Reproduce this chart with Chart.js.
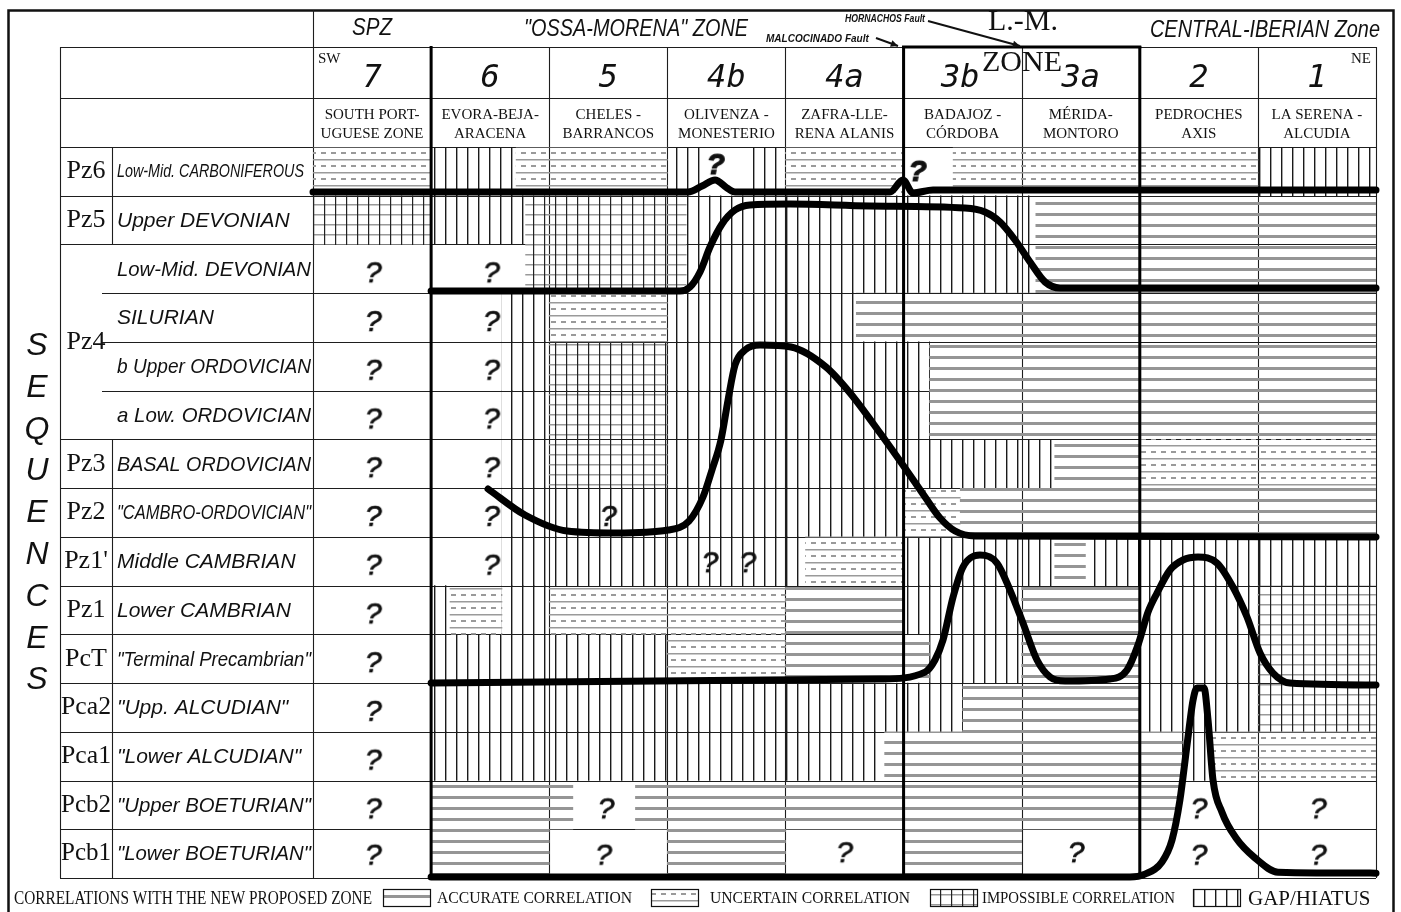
<!DOCTYPE html>
<html>
<head>
<meta charset="utf-8">
<title>Sequences correlation</title>
<script src="https://cdn.jsdelivr.net/npm/chart.js@4.4.1/dist/chart.umd.min.js"></script>
<style>
  html, body { margin: 0; padding: 0; background: #fff; overflow: hidden; }
  canvas { display: block; }
</style>
</head>
<body>
<canvas id="myChart" width="1401" height="912"></canvas>
<script>
// zones, SW -> NE
const columns = ['7', '6', '5', '4b', '4a', '3b', '3a', '2', '1'];
const columnNames = [
  ['SOUTH PORT-', 'UGUESE ZONE'], ['EVORA-BEJA-', 'ARACENA'], ['CHELES -', 'BARRANCOS'],
  ['OLIVENZA -', 'MONESTERIO'], ['ZAFRA-LLE-', 'RENA ALANIS'], ['BADAJOZ -', 'CÓRDOBA'],
  ['MÉRIDA-', 'MONTORO'], ['PEDROCHES', 'AXIS'], ['LA SERENA -', 'ALCUDIA']
];
const stages = [
  'Low-Mid. CARBONIFEROUS', 'Upper DEVONIAN', 'Low-Mid. DEVONIAN', 'SILURIAN',
  'b Upper ORDOVICIAN', 'a Low. ORDOVICIAN', 'BASAL ORDOVICIAN', '"CAMBRO-ORDOVICIAN"',
  'Middle CAMBRIAN', 'Lower CAMBRIAN', '"Terminal Precambrian"', '"Upp. ALCUDIAN"',
  '"Lower ALCUDIAN"', '"Upper BOETURIAN"', '"Lower BOETURIAN"'
];
const sequences = ['Pz6', 'Pz5', 'Pz4', 'Pz3', 'Pz2', "Pz1'", 'Pz1', 'PcT', 'Pca2', 'Pca1', 'Pcb2', 'Pcb1'];
const sequenceSpans = [[0, 1], [1, 2], [2, 6], [6, 7], [7, 8], [8, 9], [9, 10], [10, 11], [11, 12], [12, 13], [13, 14], [14, 15]];

// cells: [row, from, to] in column units (0 = left edge of zone 7)
const accurate = [
  [1, 6.12, 9], [2, 6.12, 9], [3, 4.6, 9], [4, 5.22, 9], [5, 5.22, 9], [6, 6.28, 7],
  [7, 5.48, 9], [8, 6.28, 6.54], [9, 4, 5], [9, 6, 7], [10, 4, 5.22], [10, 6, 7],
  [11, 5.5, 7], [12, 4.84, 7.36], [13, 1, 2.2], [13, 2.73, 7.33], [14, 1, 2], [14, 3, 4], [14, 5, 6]
];
const uncertain = [
  [0, 0, 1], [0, 1.72, 3], [0, 4, 5], [0, 5.42, 8], [3, 2, 3], [6, 7, 9], [7, 5, 5.48],
  [8, 4.17, 5], [9, 1.16, 1.6], [9, 2, 4], [10, 3, 4], [12, 7.6, 9]
];
const impossible = [
  [1, 0, 1], [1, 1.8, 3.16], [2, 1.8, 3.16], [4, 2, 3], [5, 2, 3], [6, 2, 3],
  [9, 8, 9], [10, 8, 9], [11, 8, 9]
];
const gap = [
  [0, 1, 1.72], [0, 3, 3.28], [0, 3.7, 4], [0, 8, 9],
  [1, 1, 1.8], [1, 3.16, 6.12], [2, 3.16, 6.12],
  [3, 1.6, 2], [3, 3, 4.6], [4, 1.6, 2], [4, 3, 5.22], [5, 1.6, 2], [5, 3, 5.22],
  [6, 1.6, 2], [6, 3, 6.28], [7, 1.6, 5], [8, 1.6, 4.17], [8, 5, 6.28], [8, 6.54, 9],
  [9, 1, 1.13], [9, 1.6, 2], [9, 5, 6], [9, 7, 8], [10, 1, 3], [10, 5.22, 6], [10, 7, 8],
  [11, 1, 5.5], [11, 7, 8], [12, 1, 4.84], [12, 7.36, 7.6]
];

// thick boundaries: [column units, row units]
const boundary1 = [[0, 0.923], [3.175, 0.923], [3.294, 0.8], [3.404, 0.677], [3.505, 0.841], [3.573, 0.923],
  [4.885, 0.923], [4.995, 0.677], [5.08, 0.944], [5.249, 0.882], [9, 0.882]];
const boundary2 = [[1, 2.955], [3.107, 2.955], [3.192, 2.873], [3.277, 2.565], [3.361, 2.052], [3.463, 1.58],
  [3.573, 1.293], [3.7, 1.19], [4.039, 1.17], [4.716, 1.211], [5.52, 1.252], [5.69, 1.334], [5.817, 1.539],
  [5.944, 1.908], [6.071, 2.36], [6.198, 2.77], [6.325, 2.893], [9, 2.893]];
const boundary3 = [[1.482, 7.018], [1.795, 7.552], [2.151, 7.88], [2.565, 7.921], [3.006, 7.86], [3.183, 7.675],
  [3.302, 7.182], [3.378, 6.628], [3.454, 6.013], [3.514, 5.192], [3.573, 4.474], [3.658, 4.166], [3.785, 4.063],
  [4.047, 4.104], [4.343, 4.515], [4.547, 5.048], [4.801, 5.869], [5.012, 6.587], [5.182, 7.182], [5.309, 7.613],
  [5.436, 7.88], [5.605, 7.983], [9, 8.003]];
const boundary4 = [[1, 11], [4.801, 10.917], [5.182, 10.774], [5.266, 10.527], [5.334, 10.117], [5.419, 9.235],
  [5.503, 8.619], [5.647, 8.373], [5.791, 8.537], [5.901, 9.091], [6.011, 9.768], [6.13, 10.527], [6.24, 10.876],
  [6.367, 10.958], [6.748, 10.917], [6.892, 10.733], [6.985, 10.22], [7.07, 9.543], [7.146, 9.153], [7.256, 8.68],
  [7.366, 8.475], [7.493, 8.414], [7.654, 8.537], [7.789, 9.029], [7.908, 9.645], [8.018, 10.384], [8.128, 10.794],
  [8.272, 11], [9, 11.041]];
const boundary5 = [[1, 14.98], [6.917, 14.98], [7.044, 14.92], [7.188, 14.67], [7.273, 14.22], [7.34, 13.4],
  [7.4, 12.27], [7.451, 11.35], [7.484, 11.1], [7.544, 11.1], [7.578, 11.76], [7.62, 12.99], [7.696, 13.65],
  [7.815, 14.18], [7.976, 14.59], [8.17, 14.88], [9, 14.9]];

// question marks [column units, row units]
const queries = [
  [0.51, 2.55], [0.51, 3.55], [0.51, 4.55], [0.51, 5.55], [0.51, 6.55], [0.51, 7.55], [0.51, 8.55],
  [0.51, 9.55], [0.51, 10.55], [0.51, 11.55], [0.51, 12.55], [0.51, 13.55], [0.51, 14.5],
  [1.51, 2.55], [1.51, 3.55], [1.51, 4.55], [1.51, 5.55], [1.51, 6.55], [1.51, 7.55], [1.51, 8.55],
  [2.5, 7.55], [2.48, 13.55], [2.46, 14.5], [3.36, 8.5], [3.68, 8.5], [4.5, 14.45],
  [6.46, 14.45], [7.5, 13.55], [7.5, 14.5], [8.51, 13.55], [8.51, 14.5]
];
const queriesTop = [[3.41, 0.33], [5.12, 0.47]];

const legendItems = [
  ['ACCURATE CORRELATION', 'accurate'], ['UNCERTAIN CORRELATION', 'uncertain'],
  ['IMPOSSIBLE CORRELATION', 'impossible'], ['GAP/HIATUS', 'gap']
];

function makePattern(kind) {
  const c = document.createElement('canvas');
  const g = c.getContext('2d');
  if (kind == 'accurate') {
    c.width = 8; c.height = 11;
    g.fillStyle = '#959595'; g.fillRect(0, 4, 8, 3);
  } else if (kind == 'uncertain') {
    c.width = 10; c.height = 13;
    g.fillStyle = '#9a9a9a'; g.fillRect(0, 3, 10, 1.5);
    g.fillRect(1, 9, 5, 2);
  } else if (kind == 'impossible') {
    c.width = 11; c.height = 10;
    g.fillStyle = '#999'; g.fillRect(0, 4, 11, 1.5);
    g.fillStyle = '#222'; g.fillRect(5, 0, 1.2, 10);
  } else {
    c.width = 11; c.height = 4;
    g.fillStyle = '#1a1a1a'; g.fillRect(5, 0, 1.4, 4);
  }
  return g.createPattern(c, 'repeat');
}

function questionMark(bold) {
  const c = document.createElement('canvas');
  c.width = 28; c.height = 36;
  const g = c.getContext('2d');
  g.fillStyle = '#111';
  g.strokeStyle = '#111';
  g.lineWidth = bold ? 1.2 : 0.7;
  g.font = (bold ? 'italic bold ' : 'italic ') + '30px "Liberation Sans"';
  g.textAlign = 'center';
  g.fillText('?', 14, 29);
  g.strokeText('?', 14, 29);
  return c;
}

const patterns = {};
['accurate', 'uncertain', 'impossible', 'gap'].forEach(k => patterns[k] = makePattern(k));

const HEAD_1 = 47, HEAD_2 = 98, LEFT_X = 60, CODE_X = 112;

function line(ctx, x1, y1, x2, y2) {
  ctx.beginPath(); ctx.moveTo(x1, y1); ctx.lineTo(x2, y2); ctx.stroke();
}

function arrow(ctx, x1, y1, x2, y2) {
  const ang = Math.atan2(y2 - y1, x2 - x1);
  line(ctx, x1, y1, x2, y2);
  ctx.beginPath();
  ctx.moveTo(x2, y2);
  ctx.lineTo(x2 - 8 * Math.cos(ang - 0.45), y2 - 8 * Math.sin(ang - 0.45));
  ctx.lineTo(x2 - 8 * Math.cos(ang + 0.45), y2 - 8 * Math.sin(ang + 0.45));
  ctx.closePath(); ctx.fill();
}

const tableFrame = {
  id: 'tableFrame',
  beforeDraw(chart) {
    const ctx = chart.ctx;
    ctx.save();
    ctx.fillStyle = '#fff';
    ctx.fillRect(0, 0, chart.width, chart.height);
    ctx.restore();
  },
  beforeDatasetsDraw(chart) {
    const {ctx, chartArea: a, scales: {x, yl}} = chart;
    const px = u => Math.round(x.getPixelForValue(u)) + 0.5;
    const py = v => Math.round(yl.getPixelForValue(v)) + 0.5;
    ctx.save();
    ctx.strokeStyle = '#111';
    ctx.lineWidth = 2.5;
    ctx.strokeRect(8.5, 10.5, 1385, 930);
    ctx.strokeStyle = '#1e1e1e';
    ctx.lineWidth = 1.1;
    line(ctx, px(0), 10, px(0), a.bottom);
    for (let k = 1; k <= columns.length; k++) line(ctx, px(k), HEAD_1, px(k), a.bottom);
    [HEAD_1, HEAD_2].forEach(yy => line(ctx, LEFT_X, yy + 0.5, a.right, yy + 0.5));
    line(ctx, LEFT_X + 0.5, HEAD_1, LEFT_X + 0.5, a.bottom);
    for (let k = 0; k <= stages.length; k++) {
      const inner = sequenceSpans.some(([s, e]) => k > s && k < e);
      line(ctx, inner ? 102 : LEFT_X, py(k), a.right, py(k));
    }
    sequenceSpans.forEach(([s, e]) => {
      if (e - s == 1) line(ctx, CODE_X + 0.5, py(s), CODE_X + 0.5, py(e));
    });
    ctx.restore();
  },
  afterDatasetsDraw(chart) {
    const {ctx, chartArea: a, scales: {x}} = chart;
    ctx.save();
    ctx.strokeStyle = '#000';
    ctx.lineWidth = 3;
    [1, 5, 7].forEach(u => line(ctx, x.getPixelForValue(u), HEAD_1 - 1, x.getPixelForValue(u), a.bottom));
    line(ctx, x.getPixelForValue(5) - 1.5, HEAD_1, x.getPixelForValue(7) + 1.5, HEAD_1);
    ctx.restore();
  },
  afterDraw(chart) {
    const {ctx, scales: {x, yl}} = chart;
    const cx = u => x.getPixelForValue(u);
    ctx.save();
    ctx.fillStyle = '#111';
    ctx.strokeStyle = '#111';
    ctx.textBaseline = 'middle';

    // zone header
    ctx.textAlign = 'center';
    ctx.font = 'italic 23px "Liberation Sans"';
    ctx.fillText('SPZ', cx(0.5), 29, 40);
    ctx.fillText('"OSSA-MORENA" ZONE', 636, 30, 224);
    ctx.fillText('CENTRAL-IBERIAN Zone', 1265, 31, 230);
    ctx.font = '30px "Liberation Serif"';
    ctx.fillText('L.-M.', 1023, 22, 80);
    ctx.fillText('ZONE', 1022, 63, 84);
    ctx.textAlign = 'left';
    ctx.font = 'italic bold 11px "Liberation Sans"';
    ctx.fillText('HORNACHOS Fault', 845, 19, 80);
    ctx.font = 'italic bold 10px "Liberation Sans"';
    ctx.fillText('MALCOCINADO Fault', 766, 39, 108);
    ctx.lineWidth = 2;
    arrow(ctx, 928, 21, 1020, 46);
    arrow(ctx, 876, 38, 898, 46);

    // zone numbers and names
    ctx.textAlign = 'center';
    ctx.font = 'oblique 32px "DejaVu Sans Mono"';
    columns.forEach((c, i) => {
      let u = i + 0.5;
      if (c == '3b') u -= 0.02;
      ctx.fillText(c, cx(u), 79);
    });
    ctx.font = '15px "Liberation Serif"';
    columnNames.forEach((n, i) => {
      ctx.fillText(n[0], cx(i + 0.5), 115, 114);
      ctx.fillText(n[1], cx(i + 0.5), 134, 114);
    });
    ctx.textAlign = 'left';
    ctx.fillText('SW', 318, 59);
    ctx.textAlign = 'right';
    ctx.fillText('NE', 1371, 59);

    // sequences column
    ctx.textAlign = 'center';
    ctx.font = '26px "Liberation Serif"';
    sequences.forEach((s, i) => {
      const [a, b] = sequenceSpans[i];
      ctx.fillText(s, 86, yl.getPixelForValue((a + b) / 2), 50);
    });
    ctx.textAlign = 'left';
    stages.forEach((s, i) => {
      ctx.font = i == 0 ? 'italic 18px "Liberation Sans"' : 'italic 21px "Liberation Sans"';
      ctx.fillText(s, 117, yl.getPixelForValue(i + 0.5) + 1, i == 0 ? 187 : 194);
    });
    ctx.textAlign = 'center';
    ctx.font = 'italic 32px "Liberation Sans"';
    'SEQUENCES'.split('').forEach((ch, i) => ctx.fillText(ch, 37, 346 + i * 41.8));

    // legend
    ctx.textAlign = 'left';
    ctx.font = '19px "Liberation Serif"';
    ctx.fillText('CORRELATIONS WITH THE NEW PROPOSED ZONE', 14, 899, 358);
    const boxes = [383, 651, 930, 1193];
    const texts = [[437, 195], [710, 200], [982, 193], [1248, 130]];
    legendItems.forEach(([label, kind], i) => {
      ctx.fillStyle = patterns[kind];
      ctx.fillRect(boxes[i], 889, 47, 17);
      ctx.lineWidth = 1.2;
      ctx.strokeRect(boxes[i] + 0.5, 889.5, 47, 17);
      ctx.fillStyle = '#111';
      ctx.font = i == 3 ? '21px "Liberation Serif"' : '16px "Liberation Serif"';
      ctx.fillText(label, texts[i][0], 899, texts[i][1]);
    });
    ctx.restore();
  }
};

const cellSets = [['accurate', accurate], ['uncertain', uncertain], ['impossible', impossible], ['gap', gap]];
const boundaries = [boundary1, boundary2, boundary3, boundary4, boundary5];

const datasets = cellSets.map(([kind, cells]) => ({
  type: 'bar',
  label: kind,
  indexAxis: 'y',
  xAxisID: 'x',
  yAxisID: 'y',
  data: cells.map(([r, s, e]) => ({y: stages[r], x: [s, e]})),
  backgroundColor: patterns[kind],
  borderWidth: 0,
  grouped: false,
  barPercentage: 1,
  categoryPercentage: 1,
  order: 3
}));

boundaries.forEach((b, i) => datasets.push({
  type: 'line',
  label: 'boundary ' + (i + 1),
  indexAxis: 'x',
  xAxisID: 'x',
  yAxisID: 'yl',
  data: b.map(([u, v]) => ({x: u, y: v})),
  borderColor: '#000',
  borderWidth: 7,
  borderCapStyle: 'round',
  borderJoinStyle: 'round',
  cubicInterpolationMode: 'monotone',
  pointRadius: 0,
  fill: false,
  clip: false,
  order: 2
}));

[[queries, false], [queriesTop, true]].forEach(([q, bold]) => datasets.push({
  type: 'line',
  label: 'unknown',
  indexAxis: 'x',
  xAxisID: 'x',
  yAxisID: 'yl',
  data: q.map(([u, v]) => ({x: u, y: v})),
  showLine: false,
  pointStyle: questionMark(bold),
  pointRadius: 5,
  clip: false,
  order: 1
}));

new Chart(document.getElementById('myChart'), {
  type: 'bar',
  data: {labels: stages, datasets: datasets},
  options: {
    indexAxis: 'y',
    responsive: false,
    maintainAspectRatio: false,
    devicePixelRatio: 1,
    animation: false,
    events: [],
    layout: {padding: {left: 313, top: 147, right: 25, bottom: 34}},
    plugins: {legend: {display: false}, tooltip: {enabled: false}},
    scales: {
      x: {type: 'linear', min: 0, max: 9, offset: false, display: false},
      y: {type: 'category', offset: true, display: false},
      yl: {type: 'linear', axis: 'y', min: 0, max: 15, reverse: true, offset: false, display: false}
    }
  },
  plugins: [tableFrame]
});
</script>
</body>
</html>
